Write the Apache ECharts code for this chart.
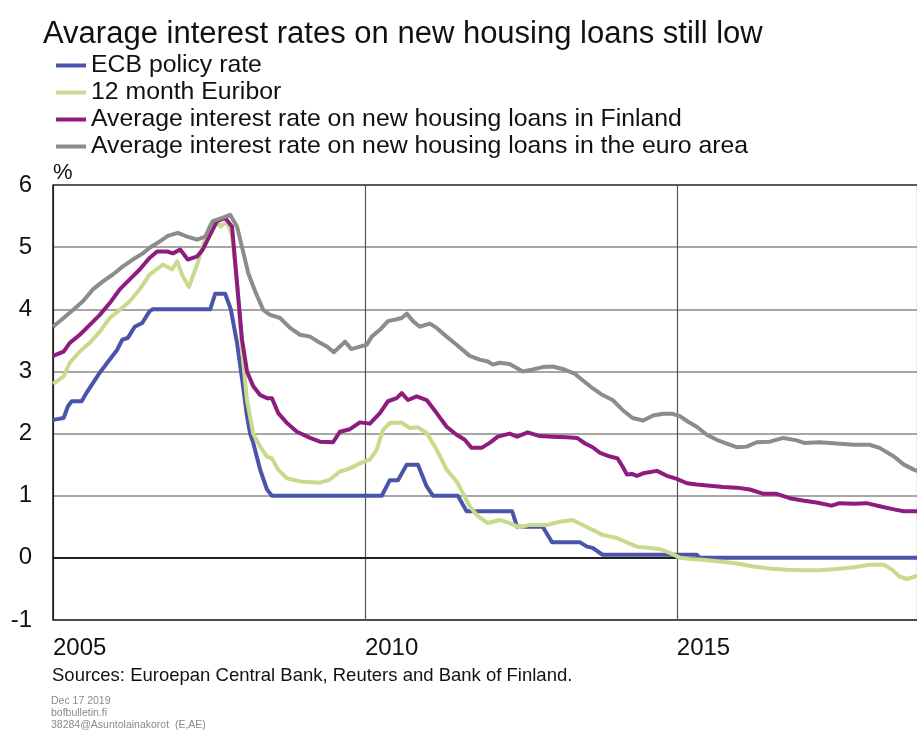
<!DOCTYPE html>
<html>
<head>
<meta charset="utf-8">
<script src="https://cdn.jsdelivr.net/npm/echarts@6/dist/echarts.min.js"></script>
<style>
html,body{margin:0;padding:0;background:#fff;}
#chart{width:917px;height:731px;}
</style>
</head>
<body>
<div id="chart"></div>
<script>
// ---- Data (x in years) ----
const seriesNames = [
  'ECB policy rate',
  '12 month Euribor',
  'Average interest rate on new housing loans in Finland',
  'Average interest rate on new housing loans in the euro area'
];
const xTickYears = [2005, 2010, 2015];
const xVisibleEnd = 2018.85; // the picture is cut off here on the right
const yTicks = [-1, 0, 1, 2, 3, 4, 5, 6];

const ecbDates = [2005.00,2005.17,2005.24,2005.30,2005.46,2005.54,2005.75,2005.87,2006.03,2006.11,2006.20,2006.31,2006.43,2006.55,2006.60,2007.52,2007.60,2007.76,2007.85,2007.95,2008.04,2008.11,2008.16,2008.21,2008.32,2008.43,2008.51,2010.27,2010.40,2010.53,2010.67,2010.85,2010.99,2011.09,2011.49,2011.63,2012.36,2012.44,2012.85,2013.00,2013.45,2013.56,2013.65,2013.81,2015.32,2015.37,2018.95];
const ecbValues = [2.22,2.25,2.44,2.52,2.52,2.66,2.98,3.14,3.35,3.51,3.54,3.72,3.78,3.97,4.00,4.00,4.25,4.25,4.00,3.46,2.81,2.28,2.00,1.85,1.42,1.10,1.00,1.00,1.25,1.25,1.50,1.50,1.15,1.00,1.00,0.75,0.75,0.50,0.50,0.25,0.25,0.18,0.16,0.05,0.05,0.00,0.00];

const euriborDates = [2005.00,2005.17,2005.27,2005.43,2005.59,2005.75,2005.91,2006.07,2006.23,2006.39,2006.55,2006.76,2006.91,2006.99,2007.08,2007.18,2007.31,2007.40,2007.52,2007.63,2007.68,2007.79,2007.87,2007.95,2008.03,2008.11,2008.21,2008.32,2008.43,2008.51,2008.61,2008.75,2008.96,2009.28,2009.44,2009.60,2009.76,2009.92,2010.08,2010.19,2010.29,2010.40,2010.58,2010.72,2010.85,2010.99,2011.15,2011.31,2011.47,2011.57,2011.68,2011.81,2011.97,2012.16,2012.32,2012.48,2012.64,2012.92,2013.13,2013.33,2013.49,2013.65,2013.81,2014.04,2014.20,2014.36,2014.57,2014.73,2014.89,2015.05,2015.21,2015.42,2015.69,2015.96,2016.23,2016.49,2016.76,2017.04,2017.29,2017.56,2017.84,2018.09,2018.32,2018.45,2018.57,2018.69,2018.85,2018.95];
const euriborValues = [2.80,2.92,3.14,3.32,3.46,3.64,3.86,3.99,4.13,4.32,4.56,4.72,4.64,4.77,4.53,4.36,4.72,5.01,5.36,5.42,5.33,5.41,5.20,4.42,3.35,2.54,2.00,1.79,1.63,1.60,1.42,1.28,1.23,1.21,1.26,1.39,1.44,1.52,1.58,1.74,2.06,2.17,2.18,2.09,2.10,2.01,1.74,1.42,1.23,1.04,0.83,0.67,0.56,0.61,0.56,0.49,0.53,0.53,0.58,0.61,0.53,0.45,0.37,0.32,0.25,0.18,0.16,0.14,0.08,0.00,-0.02,-0.03,-0.06,-0.09,-0.14,-0.17,-0.19,-0.20,-0.20,-0.18,-0.15,-0.11,-0.11,-0.19,-0.30,-0.34,-0.29,-0.27];

const finlandDates = [2005.00,2005.17,2005.27,2005.43,2005.59,2005.75,2005.91,2006.07,2006.23,2006.39,2006.55,2006.67,2006.83,2006.92,2007.04,2007.16,2007.31,2007.40,2007.52,2007.63,2007.76,2007.87,2007.95,2008.03,2008.11,2008.21,2008.32,2008.43,2008.51,2008.61,2008.75,2008.91,2009.12,2009.28,2009.49,2009.60,2009.76,2009.92,2010.08,2010.24,2010.37,2010.51,2010.59,2010.69,2010.83,2010.99,2011.15,2011.31,2011.47,2011.60,2011.71,2011.87,2012.00,2012.13,2012.32,2012.44,2012.61,2012.80,2013.01,2013.24,2013.40,2013.53,2013.65,2013.77,2013.93,2014.05,2014.13,2014.20,2014.28,2014.36,2014.46,2014.68,2014.84,2015.00,2015.16,2015.32,2015.53,2015.74,2015.96,2016.17,2016.39,2016.60,2016.81,2017.04,2017.24,2017.48,2017.61,2017.84,2018.04,2018.25,2018.48,2018.64,2018.95];
const finlandValues = [3.25,3.32,3.46,3.59,3.75,3.91,4.10,4.32,4.48,4.64,4.83,4.93,4.93,4.90,4.96,4.80,4.85,4.96,5.20,5.42,5.47,5.33,4.42,3.51,3.00,2.76,2.62,2.57,2.57,2.33,2.17,2.03,1.93,1.87,1.86,2.03,2.07,2.18,2.16,2.33,2.52,2.57,2.65,2.54,2.60,2.54,2.33,2.11,1.98,1.90,1.77,1.77,1.85,1.95,2.00,1.95,2.02,1.96,1.95,1.94,1.93,1.84,1.78,1.69,1.63,1.60,1.47,1.34,1.35,1.32,1.36,1.40,1.32,1.27,1.20,1.18,1.16,1.14,1.13,1.10,1.03,1.03,0.96,0.92,0.89,0.84,0.88,0.87,0.88,0.83,0.78,0.75,0.75];

const euroAreaDates = [2005.00,2005.17,2005.32,2005.48,2005.64,2005.80,2005.96,2006.12,2006.28,2006.44,2006.55,2006.71,2006.84,2007.00,2007.15,2007.31,2007.44,2007.56,2007.71,2007.84,2007.95,2008.04,2008.13,2008.24,2008.37,2008.48,2008.64,2008.80,2008.96,2009.12,2009.28,2009.39,2009.50,2009.60,2009.68,2009.78,2009.92,2010.03,2010.11,2010.24,2010.37,2010.51,2010.59,2010.67,2010.77,2010.88,2011.04,2011.15,2011.31,2011.47,2011.68,2011.84,2011.97,2012.05,2012.16,2012.32,2012.53,2012.69,2012.85,2013.01,2013.17,2013.37,2013.45,2013.65,2013.81,2013.97,2014.13,2014.29,2014.46,2014.62,2014.78,2014.92,2015.05,2015.18,2015.32,2015.48,2015.64,2015.80,2015.96,2016.12,2016.28,2016.49,2016.71,2016.92,2017.04,2017.29,2017.56,2017.84,2018.09,2018.25,2018.48,2018.64,2018.80,2018.95];
const euroAreaValues = [3.72,3.86,3.99,4.13,4.32,4.45,4.56,4.69,4.80,4.90,4.99,5.09,5.18,5.23,5.17,5.12,5.17,5.42,5.47,5.52,5.33,4.96,4.58,4.29,3.99,3.91,3.86,3.70,3.59,3.56,3.46,3.40,3.31,3.40,3.48,3.36,3.40,3.43,3.56,3.67,3.81,3.84,3.86,3.93,3.81,3.72,3.77,3.70,3.56,3.43,3.25,3.19,3.16,3.11,3.14,3.12,3.00,3.03,3.07,3.08,3.04,2.96,2.89,2.73,2.62,2.54,2.38,2.25,2.21,2.29,2.32,2.32,2.28,2.19,2.11,1.98,1.90,1.84,1.78,1.79,1.86,1.87,1.93,1.89,1.85,1.86,1.84,1.82,1.82,1.77,1.63,1.50,1.42,1.36];

const colors = ['#4a54a8', '#c8da8c', '#8d1c80', '#8c8c8c'];

function pairs(d, v) { return d.map((x, i) => [x, v[i]]); }

const FONT = '"Liberation Sans", Arial, Helvetica, sans-serif';
const chart = echarts.init(document.getElementById('chart'), null, {renderer: 'canvas'});

const allData = [
  pairs(ecbDates, ecbValues),
  pairs(euriborDates, euriborValues),
  pairs(finlandDates, finlandValues),
  pairs(euroAreaDates, euroAreaValues)
];

chart.setOption({
  animation: false,
  backgroundColor: '#ffffff',
  title: {
    text: 'Avarage interest rates on new housing loans still low',
    left: 38, top: 14,
    textStyle: {fontFamily: FONT, fontSize: 31, fontWeight: 'normal', color: '#111'}
  },
  legend: {
    orient: 'vertical',
    left: 51, top: 47,
    itemWidth: 30, itemHeight: 4, itemGap: 0,
    icon: 'rect',
    textStyle: {fontFamily: FONT, fontSize: 24.8, color: '#111', lineHeight: 27},
    data: seriesNames
  },
  grid: {left: 53, top: 185, bottom: 111, right: 0, show: false},
  xAxis: {
    type: 'value',
    min: xTickYears[0], max: xVisibleEnd, interval: 5,
    axisLine: {show: true, lineStyle: {color: '#111', width: 1.5}},
    axisTick: {show: false},
    splitLine: {show: true, lineStyle: {color: '#555', width: 1.2}},
    axisLabel: {
      fontFamily: FONT, fontSize: 24, color: '#111', align: 'left', margin: 16,
      showMaxLabel: false,
      formatter: v => xTickYears.includes(v) ? String(v) : ''
    }
  },
  yAxis: {
    type: 'value',
    min: yTicks[0], max: yTicks[yTicks.length - 1], interval: 1,
    name: '%',
    nameLocation: 'end',
    nameGap: 1,
    nameTextStyle: {fontFamily: FONT, fontSize: 22, color: '#111', align: 'left', verticalAlign: 'bottom'},
    axisLine: {show: true, lineStyle: {color: '#111', width: 1.5}},
    axisTick: {show: false},
    splitLine: {show: true, lineStyle: {color: ['#111', '#222', '#8a8a8a', '#8a8a8a', '#8a8a8a', '#8a8a8a', '#8a8a8a', '#222'], width: 1.5}},
    axisLabel: {fontFamily: FONT, fontSize: 24, color: '#111', margin: 21}
  },
  series: seriesNames.map((name, i) => ({
    name: name,
    type: 'line',
    data: allData[i],
    showSymbol: false,
    symbol: 'none',
    color: colors[i],
    lineStyle: {width: 4, color: colors[i], join: 'round'},
    clip: true,
    z: 2 + i
  })),
  graphic: [
    {type: 'text', left: 52, top: 666, style: {text: 'Sources: Euroepan Central Bank, Reuters and Bank of Finland.', font: '18.5px ' + FONT, fill: '#111'}},
    {type: 'text', left: 51, top: 696, style: {text: 'Dec 17 2019', font: '10.5px ' + FONT, fill: '#8a8a8a'}},
    {type: 'text', left: 51, top: 708, style: {text: 'bofbulletin.fi', font: '10.5px ' + FONT, fill: '#8a8a8a'}},
    {type: 'text', left: 51, top: 720, style: {text: '38284@Asuntolainakorot  (E,AE)', font: '10.5px ' + FONT, fill: '#8a8a8a'}}
  ]
});
</script>
</body>
</html>
